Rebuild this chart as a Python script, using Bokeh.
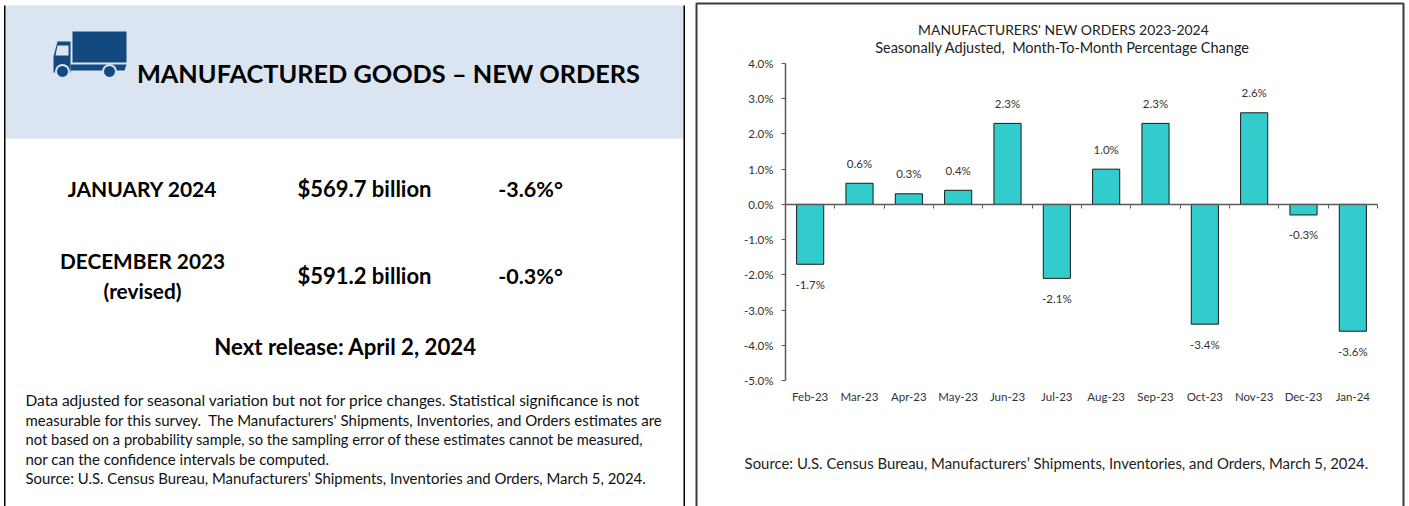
import math
from bokeh.plotting import figure
from bokeh.embed import file_html
from bokeh.resources import INLINE
from bokeh.models import (ColumnDataSource, Range1d, LinearAxis, FixedTicker,
                          PrintfTickFormatter, Label, BoxAnnotation, PolyAnnotation)
from bokeh.core.properties import value

W, H = 1409, 506
months = ["Feb-23", "Mar-23", "Apr-23", "May-23", "Jun-23", "Jul-23", "Aug-23", "Sep-23", "Oct-23", "Nov-23", "Dec-23", "Jan-24"]
changes = [-1.7, 0.6, 0.3, 0.4, 2.3, -2.1, 1.0, 2.3, -3.4, 2.6, -0.3, -3.6]
y_ticks = [-5, -4, -3, -2, -1, 0, 1, 2, 3, 4]
chart_title = ["MANUFACTURERS' NEW ORDERS 2023-2024", "Seasonally Adjusted,\u00a0 Month-To-Month Percentage Change"]
source_right = "Source: U.S. Census Bureau, Manufacturers’ Shipments, Inventories, and Orders, March 5, 2024."
heading = "MANUFACTURED GOODS – NEW ORDERS"
rows = [("JANUARY 2024", "$569.7 billion", "-3.6%°"), ("DECEMBER 2023", "$591.2 billion", "-0.3%°")]
notes = [
    "Data adjusted for seasonal variation but not for price changes. Statistical significance is not",
    "measurable for this survey.\u00a0 The Manufacturers' Shipments, Inventories, and Orders estimates are",
    "not based on a probability sample, so the sampling error of these estimates cannot be measured,",
    "nor can the confidence intervals be computed.",
    "Source: U.S. Census Bureau, Manufacturers’ Shipments, Inventories and Orders, March 5, 2024.",
]

# plot area of the chart, in picture pixels; the figure's frame covers the whole page so
# that the scales place the chart there and nothing around it gets clipped
FL, FR, FT, FB = 785, 1377, 63, 380
YMIN, YMAX = y_ticks[0], y_ticks[-1]
ux = (FR - FL) / len(months)
uy = (FB - FT) / (YMAX - YMIN)
FONT = "Lato"
p = figure(width=W, height=H, output_backend="svg", toolbar_location=None,
           x_range=Range1d(-FL / ux, (W - FL) / ux),
           y_range=Range1d(YMIN - (H - FB) / uy, YMAX + FT / uy),
           x_axis_location=None, y_axis_location=None,
           min_border=0, min_border_left=0, min_border_right=0, min_border_top=0, min_border_bottom=0,
           outline_line_color=None)
p.grid.visible = False

AX = "#595959"
TXT = "#333333"
TICK = "11.5px"
centers = [i + 0.5 for i in range(len(months))]
slots = list(range(len(months) + 1))

p.add_layout(LinearAxis(fixed_location=0, bounds=(YMIN, YMAX), ticker=FixedTicker(ticks=y_ticks),
                        formatter=PrintfTickFormatter(format="%.1f%%"),
                        axis_line_color=AX, axis_line_width=1.5, major_tick_line_color=AX,
                        major_tick_in=0, major_tick_out=4, minor_tick_line_color=None,
                        major_label_text_font=FONT, major_label_text_font_size=TICK,
                        major_label_text_color=TXT, major_label_standoff=8), "left")
p.add_layout(LinearAxis(fixed_location=YMIN, bounds=(0, len(months)), ticker=FixedTicker(ticks=centers),
                        major_label_overrides=dict(zip(centers, months)),
                        axis_line_color=None, major_tick_line_color=None, minor_tick_line_color=None,
                        major_label_text_font=FONT, major_label_text_font_size=TICK,
                        major_label_text_color=TXT, major_label_standoff=3), "below")
p.add_layout(LinearAxis(fixed_location=0, bounds=(0, len(months)), ticker=FixedTicker(ticks=slots),
                        major_label_overrides={i: "" for i in slots}, major_label_text_color=None,
                        axis_line_color=AX, axis_line_width=1.5, major_tick_line_color=AX,
                        major_tick_in=0, major_tick_out=4, minor_tick_line_color=None), "below")

src = ColumnDataSource(dict(x=centers, v=changes, t=[f"{v:.1f}%" for v in changes],
                            off=[-20 if v >= 0 else 20 for v in changes]))
p.vbar(x="x", top="v", bottom=0, width=0.55, source=src, fill_color="#33CCCC", line_color="#1a1a1a", line_width=1)
p.text(x="x", y="v", text="t", y_offset="off", source=src, text_align="center", text_baseline="middle",
       text_font=value(FONT), text_font_size=TICK, text_color=TXT)


def sy(y):
    return H - y


def box(x0, y0, x1, y1, fill=None, line=None, lw=1):
    p.add_layout(BoxAnnotation(left=x0, right=x1, top=sy(y0), bottom=sy(y1), left_units="screen", right_units="screen",
                               top_units="screen", bottom_units="screen", fill_color=fill, fill_alpha=1 if fill else 0,
                               line_color=line, line_alpha=1, line_width=lw, level="underlay", editable=False))


def poly(pts, fill):
    p.add_layout(PolyAnnotation(xs=[a for a, b in pts], ys=[sy(b) for a, b in pts], xs_units="screen", ys_units="screen",
                                fill_color=fill, fill_alpha=1, line_color=None))


def text(t, x, y, size, bold=False, align="center", color="#000000"):
    p.add_layout(Label(x=x, y=sy(y), x_units="screen", y_units="screen", text=t, text_font=FONT, text_font_size=f"{size}px",
                       text_font_style="bold" if bold else "normal", text_align=align, text_baseline="middle",
                       text_color=color))


# left panel
box(5, 5, 684, 138, fill="#DBE5F1")
box(3.5, 5, 5, 520, fill="#000000")
box(683, 5, 684.5, 520, fill="#000000")
# right panel frame
box(696, 3, 1403, 530, line="#3a3a3a", lw=2)

# truck icon
NAVY = "#124A80"
poly([(72, 31), (126, 31), (126, 62), (72, 62)], NAVY)
poly([(70, 41), (57, 41), (53, 56), (53, 72), (70, 72)], NAVY)
poly([(57, 45), (68, 45), (68, 55), (55, 55)], "#DBE5F1")
poly([(70, 64), (126, 64), (124, 70), (70, 70)], NAVY)
for cx in (62, 109):
    poly([(cx + 7.5 * math.cos(i * math.pi / 8), 71 + 7.5 * math.sin(i * math.pi / 8)) for i in range(16)], "#DBE5F1")
    poly([(cx + 5.5 * math.cos(i * math.pi / 8), 71 + 5.5 * math.sin(i * math.pi / 8)) for i in range(16)], NAVY)

text(heading, 388, 72, 25.3, bold=True)
for t, x, s in zip(rows[0], (142, 364, 530), (21, 22, 21.5)):
    text(t, x, 188, s, bold=True)
text(rows[1][0], 142, 260, 20.8, bold=True)
text("(revised)", 142, 290, 20.8, bold=True)
text(rows[1][1], 364, 275, 22, bold=True)
text(rows[1][2], 530, 275, 21.5, bold=True)
text("Next release: April 2, 2024", 345, 346, 22.2, bold=True)
for t, y, s in zip(notes, (399, 419, 438, 458, 477), (15.5, 15, 14.7, 15, 14.9)):
    text(t, 25, y, s, align="left", color="#111111")

text(chart_title[0], 1063, 29, 13.9, color="#222222")
text(chart_title[1], 1062, 47, 14.5, color="#222222")
text(source_right, 1056, 462, 14.9, color="#222222")

open("out.html", "w").write(file_html(p, INLINE))
